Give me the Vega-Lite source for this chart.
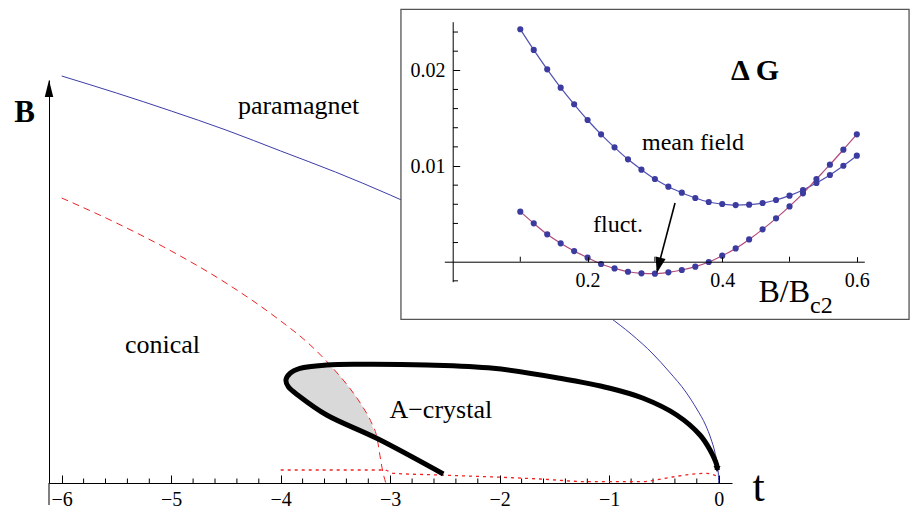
{
  "$schema": "https://vega.github.io/schema/vega-lite/v6.json",
  "width": 683,
  "height": 403,
  "autosize": "none",
  "padding": {"left": 49, "top": 80, "right": 181, "bottom": 27},
  "background": "white",
  "config": {
    "view": {"stroke": null},
    "font": "Liberation Serif",
    "axis": {"grid": false, "labelFont": "Liberation Serif", "titleFont": "Liberation Serif", "domainColor": "black", "tickColor": "black", "labelColor": "black", "titleColor": "black", "domainWidth": 1, "tickWidth": 1, "labelOverlap": false, "labelFlush": false, "labelBound": false}
  },
  "datasets": {
    "para": [
      {"t": -6, "B": 4.07}, {"t": -5.5, "B": 3.9}, {"t": -5, "B": 3.72}, {"t": -4.5, "B": 3.53},
      {"t": -4, "B": 3.32}, {"t": -3.5, "B": 3.11}, {"t": -3, "B": 2.88}, {"t": -2.5, "B": 2.63},
      {"t": -2, "B": 2.35}, {"t": -1.5, "B": 2.04}, {"t": -1.2, "B": 1.82}, {"t": -1, "B": 1.66},
      {"t": -0.8, "B": 1.49}, {"t": -0.6, "B": 1.29}, {"t": -0.45, "B": 1.11}, {"t": -0.3, "B": 0.91},
      {"t": -0.2, "B": 0.74}, {"t": -0.12, "B": 0.58}, {"t": -0.07, "B": 0.44}, {"t": -0.035, "B": 0.31},
      {"t": -0.012, "B": 0.18}, {"t": -0.003, "B": 0.09}, {"t": 0, "B": 0}
    ],
    "conical": [
      {"t": -6, "B": 2.85}, {"t": -5.5, "B": 2.6}, {"t": -5, "B": 2.32}, {"t": -4.5, "B": 2.0},
      {"t": -4, "B": 1.62}, {"t": -3.75, "B": 1.4}, {"t": -3.5, "B": 1.12}, {"t": -3.35, "B": 0.92},
      {"t": -3.25, "B": 0.76}, {"t": -3.17, "B": 0.6}, {"t": -3.12, "B": 0.45}, {"t": -3.09, "B": 0.25},
      {"t": -3.065, "B": 0.1}, {"t": -3.04, "B": 0}
    ],
    "dotted": [
      {"t": -4.0, "B": 0.13}, {"t": -3.05, "B": 0.13}, {"t": -2.97, "B": 0.097}, {"t": -2.54, "B": 0.08},
      {"t": -1.63, "B": 0.04}, {"t": -1.18, "B": 0.013}, {"t": -0.72, "B": 0.013}, {"t": -0.42, "B": 0.06},
      {"t": -0.26, "B": 0.087}, {"t": -0.11, "B": 0.097}, {"t": -0.02, "B": 0.07}
    ],
    "acrystal": [
      {"o": 1, "t": -2.515, "B": 0.09}, {"o": 2, "t": -3.123, "B": 0.447}, {"o": 3, "t": -3.58, "B": 0.68},
      {"o": 4, "t": -3.824, "B": 0.863}, {"o": 5, "t": -3.931, "B": 0.963}, {"o": 6, "t": -3.952, "B": 1.03},
      {"o": 7, "t": -3.915, "B": 1.097}, {"o": 8, "t": -3.824, "B": 1.147}, {"o": 9, "t": -3.58, "B": 1.18},
      {"o": 10, "t": -3.276, "B": 1.187}, {"o": 11, "t": -2.667, "B": 1.18}, {"o": 12, "t": -2.058, "B": 1.147},
      {"o": 13, "t": -1.449, "B": 1.047}, {"o": 14, "t": -0.993, "B": 0.947}, {"o": 15, "t": -0.689, "B": 0.847},
      {"o": 16, "t": -0.384, "B": 0.68}, {"o": 17, "t": -0.171, "B": 0.48}, {"o": 18, "t": -0.079, "B": 0.33},
      {"o": 19, "t": -0.018, "B": 0.18}, {"o": 20, "t": -0.013, "B": 0.13}
    ],
    "shade": [
      {"t": -3.952, "upper": 1.03, "lower": 1.03}, {"t": -3.931, "upper": 1.08, "lower": 0.963},
      {"t": -3.915, "upper": 1.097, "lower": 0.94}, {"t": -3.87, "upper": 1.125, "lower": 0.9},
      {"t": -3.824, "upper": 1.147, "lower": 0.863}, {"t": -3.7, "upper": 1.165, "lower": 0.77},
      {"t": -3.58, "upper": 1.18, "lower": 0.68}, {"t": -3.5, "upper": 1.12, "lower": 0.64},
      {"t": -3.4, "upper": 0.99, "lower": 0.59}, {"t": -3.3, "upper": 0.845, "lower": 0.535},
      {"t": -3.2, "upper": 0.66, "lower": 0.485}, {"t": -3.12, "upper": 0.45, "lower": 0.447}
    ],
    "mainMinor": [
      {"t": -5.8}, {"t": -5.6}, {"t": -5.4}, {"t": -5.2}, {"t": -4.8}, {"t": -4.6}, {"t": -4.4}, {"t": -4.2},
      {"t": -3.8}, {"t": -3.6}, {"t": -3.4}, {"t": -3.2}, {"t": -2.8}, {"t": -2.6}, {"t": -2.4}, {"t": -2.2},
      {"t": -1.8}, {"t": -1.6}, {"t": -1.4}, {"t": -1.2}, {"t": -0.8}, {"t": -0.6}, {"t": -0.4}, {"t": -0.2}
    ],
    "yext": [{"t": -6.116, "B": 0, "B2": -0.22}],
    "mainText": [
      {"t": -3.837, "B": 3.69, "label": "paramagnet"},
      {"t": -5.079, "B": 1.3, "label": "conical"},
      {"t": -2.538, "B": 0.65, "label": "A−crystal"}
    ],
    "yarrow": [{"t": -6.116, "B": 4.03}],
    "endblob": [{"t": -0.015, "B": 0.14}],
    "inset": [
      {"x": 0.1, "mf": 0.02429, "fl": 0.00523}, {"x": 0.12, "mf": 0.02213, "fl": 0.00401},
      {"x": 0.14, "mf": 0.0201, "fl": 0.00286}, {"x": 0.16, "mf": 0.01819, "fl": 0.00192},
      {"x": 0.18, "mf": 0.01645, "fl": 0.00111}, {"x": 0.2, "mf": 0.01481, "fl": 0.00042},
      {"x": 0.22, "mf": 0.01331, "fl": -0.00024}, {"x": 0.24, "mf": 0.01195, "fl": -0.0007},
      {"x": 0.26, "mf": 0.0107, "fl": -0.00105}, {"x": 0.28, "mf": 0.00962, "fl": -0.00122},
      {"x": 0.3, "mf": 0.00864, "fl": -0.00125}, {"x": 0.32, "mf": 0.00784, "fl": -0.00111},
      {"x": 0.34, "mf": 0.00721, "fl": -0.00087}, {"x": 0.36, "mf": 0.00666, "fl": -0.00052},
      {"x": 0.38, "mf": 0.00624, "fl": -0.00003}, {"x": 0.4, "mf": 0.00603, "fl": 0.00063},
      {"x": 0.42, "mf": 0.00592, "fl": 0.00139}, {"x": 0.44, "mf": 0.00596, "fl": 0.00233},
      {"x": 0.46, "mf": 0.00613, "fl": 0.00338}, {"x": 0.48, "mf": 0.00645, "fl": 0.00453},
      {"x": 0.5, "mf": 0.0069, "fl": 0.00578}, {"x": 0.52, "mf": 0.00749, "fl": 0.00714},
      {"x": 0.54, "mf": 0.00822, "fl": 0.00864}, {"x": 0.56, "mf": 0.00906, "fl": 0.01014},
      {"x": 0.58, "mf": 0.01003, "fl": 0.01171}, {"x": 0.6, "mf": 0.01108, "fl": 0.01331}
    ],
    "insetMinorX": [{"x": 0.1}, {"x": 0.3}, {"x": 0.5}],
    "insetMinorY": [
      {"y": -0.002}, {"y": 0.002}, {"y": 0.004}, {"y": 0.006}, {"y": 0.008}, {"y": 0.012},
      {"y": 0.014}, {"y": 0.016}, {"y": 0.018}, {"y": 0.022}, {"y": 0.024}
    ],
    "box": [{"x": -0.0773, "x2": 0.6776, "y": 0.02637, "y2": -0.00602}],
    "insetText24": [
      {"x": 0.3566, "y": 0.01167, "label": "mean field"},
      {"x": 0.2452, "y": 0.00313, "label": "fluct."}
    ],
    "dg": [{"x": 0.4487, "y": 0.01899, "label": "Δ G"}],
    "bb": [{"x": 0.5305, "y": -0.00418, "label": "B/B"}],
    "c2": [{"x": 0.5305, "y": -0.00536, "label": "c2"}],
    "arrow": [{"x": 0.3299, "y": 0.00613, "x2": 0.3035, "y2": -0.0009}],
    "arrowhead": [{"x": 0.3027, "y": -0.00121}]
  },
  "layer": [
    {
      "layer": [
        {
          "data": {"name": "shade"},
          "mark": {"type": "area", "color": "#d9d9d9", "interpolate": "monotone"},
          "encoding": {
            "x": {"field": "t", "type": "quantitative",
              "scale": {"domain": [-6.116, 0.1215], "nice": false, "zero": false},
              "axis": {
                "title": "t", "titleFontSize": 44, "titleFontWeight": "normal", "titleX": 709, "titleY": 17,
                "titleAlign": "center", "titleBaseline": "alphabetic",
                "values": [-6, -5, -4, -3, -2, -1, 0],
                "format": "d",
                "labelFontSize": 20, "labelPadding": 14,
                "tickSize": -8
              }
            },
            "y": {"field": "upper", "type": "quantitative",
              "scale": {"domain": [0, 4.03], "nice": false, "zero": false},
              "axis": {
                "title": "B", "titleAngle": 0, "titleFontSize": 31, "titleFontWeight": "bold",
                "titleX": -25, "titleY": 41, "titleAlign": "center", "titleBaseline": "alphabetic",
                "ticks": false, "labels": false
              }
            },
            "y2": {"field": "lower"}
          }
        },
        {
          "data": {"name": "mainMinor"},
          "mark": {"type": "rule", "color": "black", "strokeWidth": 1},
          "encoding": {"x": {"field": "t", "type": "quantitative"}, "y": {"datum": 0}, "y2": {"datum": 0.045}}
        },
        {
          "data": {"name": "yext"},
          "mark": {"type": "rule", "color": "black", "strokeWidth": 1},
          "encoding": {"x": {"field": "t", "type": "quantitative"}, "y": {"field": "B", "type": "quantitative"}, "y2": {"field": "B2"}}
        },
        {
          "data": {"name": "para"},
          "mark": {"type": "line", "color": "#3c3ca8", "strokeWidth": 1, "interpolate": "monotone"},
          "encoding": {"x": {"field": "t", "type": "quantitative"}, "y": {"field": "B", "type": "quantitative"}}
        },
        {
          "data": {"name": "conical"},
          "mark": {"type": "line", "color": "#f02020", "strokeWidth": 1, "strokeDash": [7, 5], "interpolate": "monotone"},
          "encoding": {"x": {"field": "t", "type": "quantitative"}, "y": {"field": "B", "type": "quantitative"}}
        },
        {
          "data": {"name": "dotted"},
          "mark": {"type": "line", "color": "#f02020", "strokeWidth": 1.3, "strokeDash": [3, 4], "interpolate": "monotone"},
          "encoding": {"x": {"field": "t", "type": "quantitative"}, "y": {"field": "B", "type": "quantitative"}}
        },
        {
          "data": {"name": "acrystal"},
          "mark": {"type": "line", "color": "black", "strokeWidth": 5, "interpolate": "catmull-rom"},
          "encoding": {
            "x": {"field": "t", "type": "quantitative"},
            "y": {"field": "B", "type": "quantitative"},
            "order": {"field": "o", "type": "quantitative"}
          }
        },
        {
          "data": {"name": "endblob"},
          "mark": {"type": "point", "shape": "triangle-down", "filled": true, "color": "black", "size": 50, "opacity": 1},
          "encoding": {"x": {"field": "t", "type": "quantitative"}, "y": {"field": "B", "type": "quantitative"}}
        },
        {
          "data": {"name": "yarrow"},
          "mark": {"type": "point", "shape": "M0,0L-0.25,1L0.25,1Z", "filled": true, "color": "black", "size": 1156, "opacity": 1},
          "encoding": {"x": {"field": "t", "type": "quantitative"}, "y": {"field": "B", "type": "quantitative"}}
        },
        {
          "data": {"name": "mainText"},
          "mark": {"type": "text", "fontSize": 26, "font": "Liberation Serif", "color": "black", "align": "center", "baseline": "alphabetic"},
          "encoding": {"x": {"field": "t", "type": "quantitative"}, "y": {"field": "B", "type": "quantitative"}, "text": {"field": "label"}}
        }
      ]
    },
    {
      "layer": [
        {
          "data": {"name": "box"},
          "mark": {"type": "rect", "fill": "white", "stroke": "#555555", "strokeWidth": 1.3},
          "encoding": {
            "x": {"field": "x", "type": "quantitative", "title": null,
              "scale": {"domain": [-0.0129, 0.6111], "range": [395.3, 815.3], "nice": false, "zero": false},
              "axis": {
                "orient": "bottom", "offset": -221.3, "zindex": 2, "title": null,
                "values": [0.2, 0.4, 0.6], "format": ".1f",
                "labelFontSize": 20, "labelPadding": 13.5,
                "tickSize": -5
              }
            },
            "x2": {"field": "x2"},
            "y": {"field": "y", "type": "quantitative", "title": null,
              "scale": {"domain": [-0.00209, 0.02508], "range": [201.7, -58.3], "nice": false, "zero": false},
              "axis": {
                "orient": "left", "offset": -403.7, "zindex": 2, "title": null,
                "values": [0.01, 0.02],
                "format": ".2f",
                "labelFontSize": 20, "labelPadding": 14.7,
                "tickSize": -7
              }
            },
            "y2": {"field": "y2"}
          }
        },
        {
          "data": {"name": "insetMinorX"},
          "mark": {"type": "rule", "color": "black", "strokeWidth": 1},
          "encoding": {"x": {"field": "x", "type": "quantitative", "title": null}, "y": {"datum": 0}, "y2": {"datum": 0.00052}}
        },
        {
          "data": {"name": "insetMinorY"},
          "mark": {"type": "rule", "color": "black", "strokeWidth": 1},
          "encoding": {"y": {"field": "y", "type": "quantitative", "title": null}, "x": {"datum": 0}, "x2": {"datum": 0.0075}}
        },
        {
          "data": {"name": "inset"},
          "mark": {"type": "line", "color": "#5050b4", "strokeWidth": 1.2, "interpolate": "monotone"},
          "encoding": {"x": {"field": "x", "type": "quantitative", "title": null}, "y": {"field": "mf", "type": "quantitative", "title": null}}
        },
        {
          "data": {"name": "inset"},
          "mark": {"type": "line", "color": "#b04a7a", "strokeWidth": 1.2, "interpolate": "monotone"},
          "encoding": {"x": {"field": "x", "type": "quantitative", "title": null}, "y": {"field": "fl", "type": "quantitative", "title": null}}
        },
        {
          "data": {"name": "inset"},
          "mark": {"type": "point", "filled": true, "color": "#3c3ca0", "size": 38, "opacity": 1},
          "encoding": {"x": {"field": "x", "type": "quantitative", "title": null}, "y": {"field": "mf", "type": "quantitative", "title": null}}
        },
        {
          "data": {"name": "inset"},
          "mark": {"type": "point", "filled": true, "color": "#3c3ca0", "size": 38, "opacity": 1},
          "encoding": {"x": {"field": "x", "type": "quantitative", "title": null}, "y": {"field": "fl", "type": "quantitative", "title": null}}
        },
        {
          "data": {"name": "insetText24"},
          "mark": {"type": "text", "fontSize": 24, "font": "Liberation Serif", "color": "black", "align": "center", "baseline": "alphabetic"},
          "encoding": {"x": {"field": "x", "type": "quantitative", "title": null}, "y": {"field": "y", "type": "quantitative", "title": null}, "text": {"field": "label"}}
        },
        {
          "data": {"name": "dg"},
          "mark": {"type": "text", "fontSize": 30, "fontWeight": "bold", "font": "Liberation Serif", "color": "black", "align": "center", "baseline": "alphabetic"},
          "encoding": {"x": {"field": "x", "type": "quantitative", "title": null}, "y": {"field": "y", "type": "quantitative", "title": null}, "text": {"field": "label"}}
        },
        {
          "data": {"name": "bb"},
          "mark": {"type": "text", "fontSize": 32, "font": "Liberation Serif", "color": "black", "align": "right", "baseline": "alphabetic"},
          "encoding": {"x": {"field": "x", "type": "quantitative", "title": null}, "y": {"field": "y", "type": "quantitative", "title": null}, "text": {"field": "label"}}
        },
        {
          "data": {"name": "c2"},
          "mark": {"type": "text", "fontSize": 24, "font": "Liberation Serif", "color": "black", "align": "left", "baseline": "alphabetic"},
          "encoding": {"x": {"field": "x", "type": "quantitative", "title": null}, "y": {"field": "y", "type": "quantitative", "title": null}, "text": {"field": "label"}}
        },
        {
          "data": {"name": "arrow"},
          "mark": {"type": "rule", "color": "black", "strokeWidth": 1.6},
          "encoding": {
            "x": {"field": "x", "type": "quantitative", "title": null}, "y": {"field": "y", "type": "quantitative", "title": null},
            "x2": {"field": "x2"}, "y2": {"field": "y2"}
          }
        },
        {
          "data": {"name": "arrowhead"},
          "mark": {"type": "point", "shape": "M0,0L-0.32,-1L0.32,-1Z", "filled": true, "color": "black", "size": 1024, "opacity": 1, "angle": 14},
          "encoding": {"x": {"field": "x", "type": "quantitative", "title": null}, "y": {"field": "y", "type": "quantitative", "title": null}}
        }
      ]
    }
  ],
  "resolve": {"scale": {"x": "independent", "y": "independent"}}
}
